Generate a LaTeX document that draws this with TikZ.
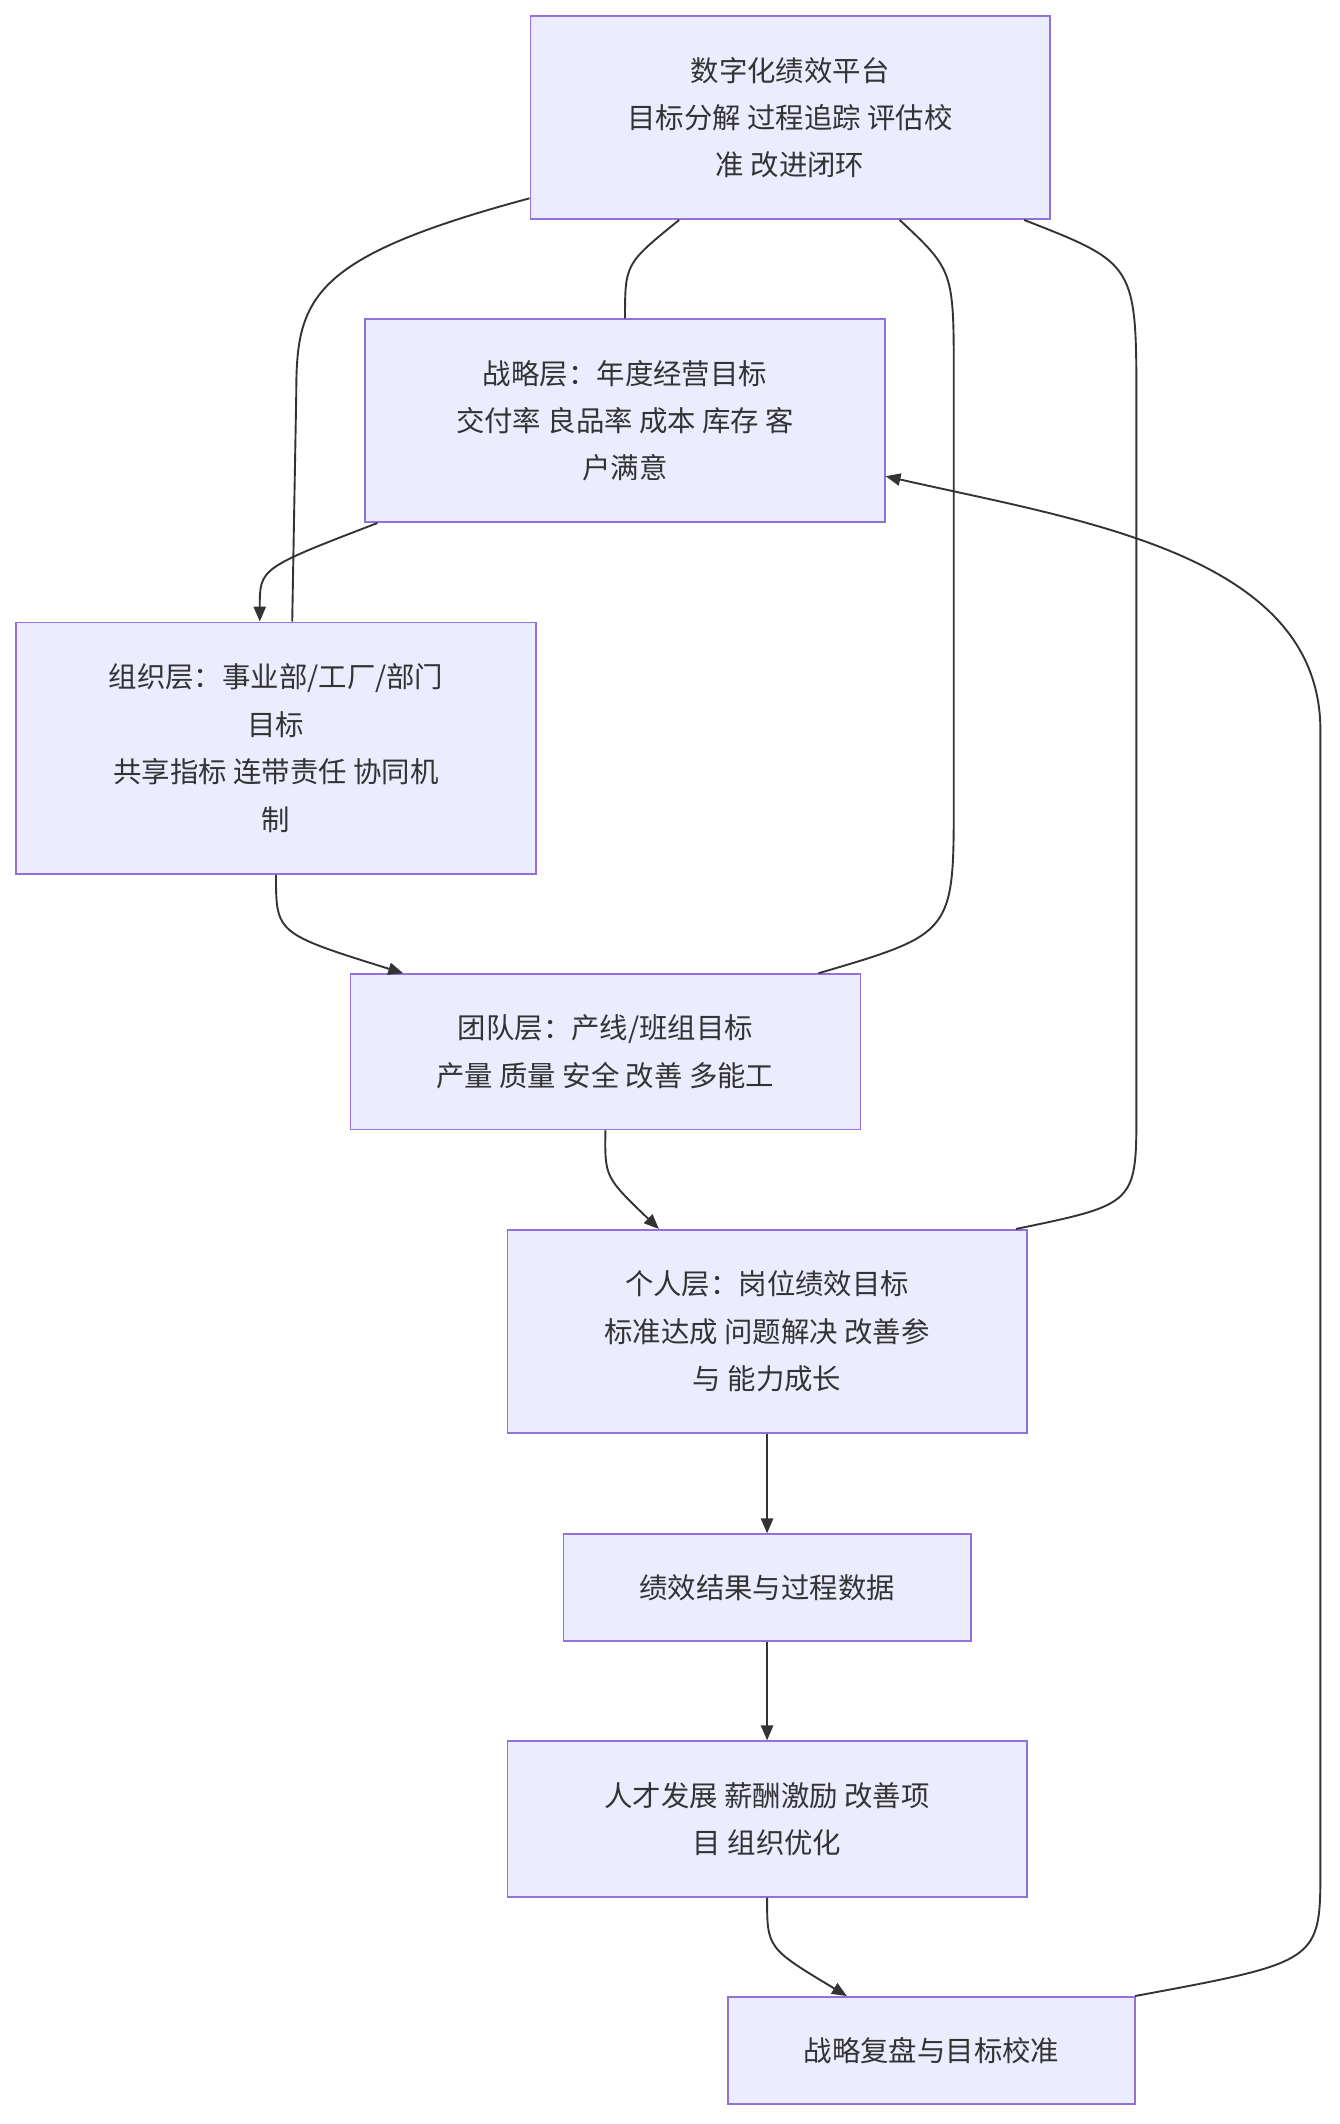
\documentclass[tikz,border=0pt]{standalone}
\usepackage{fontspec}
\setmainfont{Noto Sans CJK SC}
\usetikzlibrary{arrows.meta}
\definecolor{nfill}{HTML}{ECECFF}
\definecolor{nline}{HTML}{9370DB}
\definecolor{eline}{HTML}{333333}
\begin{document}
\begin{tikzpicture}[x=1pt,y=-1pt,
  box/.style={draw=nline,fill=nfill,line width=1.2pt,align=center,inner sep=0pt,
    font=\fontsize{21}{35}\selectfont,text=eline},
  ln/.style={draw=eline,line width=1.4pt},
  ar/.style={ln,-{Triangle[length=11pt,width=9pt]}}]
\useasboundingbox (0,0) rectangle (990,1570);
\fill[white] (0,0) rectangle (990,1570);
\node[box,minimum width=384,minimum height=150] (plat) at (584,87) {数字化绩效平台\\目标分解 过程追踪 评估校\\准 改进闭环};
\node[box,minimum width=384,minimum height=150] (strat) at (462,311) {战略层：年度经营目标\\交付率 良品率 成本 库存 客\\户满意};
\node[box,minimum width=384,minimum height=186] (org) at (204,553) {组织层：事业部/工厂/部门\\目标\\共享指标 连带责任 协同机\\制};
\node[box,minimum width=377,minimum height=115] (team) at (447.5,777.5) {团队层：产线/班组目标\\产量 质量 安全 改善 多能工};
\node[box,minimum width=384,minimum height=150] (pers) at (567,984) {个人层：岗位绩效目标\\标准达成 问题解决 改善参\\与 能力成长};
\node[box,minimum width=301,minimum height=79] (res) at (567,1173.5) {绩效结果与过程数据};
\node[box,minimum width=384,minimum height=115] (tal) at (567,1344.5) {人才发展 薪酬激励 改善项\\目 组织优化};
\node[box,minimum width=301,minimum height=79] (rev) at (688.5,1515.5) {战略复盘与目标校准};

\draw[ln] ([xshift=-82pt]plat.south) .. controls (462,195) .. (strat.north);
\draw[ln] ([yshift=16pt]plat.south west) .. controls (230,190) and (219,220) .. (219,290) -- ([xshift=12pt]org.north);
\draw[ln] ([xshift=81pt]plat.south) .. controls (705,200) .. (705,280) -- (705,590) .. controls (705,690) .. ([xshift=157.5pt]team.north);
\draw[ln] ([xshift=173pt]plat.south) .. controls (840,195) .. (840,300) -- (840,820) .. controls (840,890) .. ([xshift=184pt]pers.north);
\draw[ar] ([xshift=-183pt]strat.south) .. controls (192,420) .. ([xshift=-12pt]org.north);
\draw[ar] (org.south) .. controls (204,690) .. ([xshift=-149.5pt]team.north);
\draw[ar] (team.south) .. controls (447,870) .. ([xshift=-80pt]pers.north);
\draw[ar] (pers.south) -- (res.north);
\draw[ar] (res.south) -- (tal.north);
\draw[ar] (tal.south) .. controls (567,1440) .. ([xshift=-62.5pt]rev.north);
\draw[ar] ([xshift=150.5pt]rev.north) .. controls (976,1450) .. (976,1380) -- (976,540) .. controls (976,410) and (800,385) .. ([yshift=-41pt]strat.east);
\end{tikzpicture}
\end{document}
